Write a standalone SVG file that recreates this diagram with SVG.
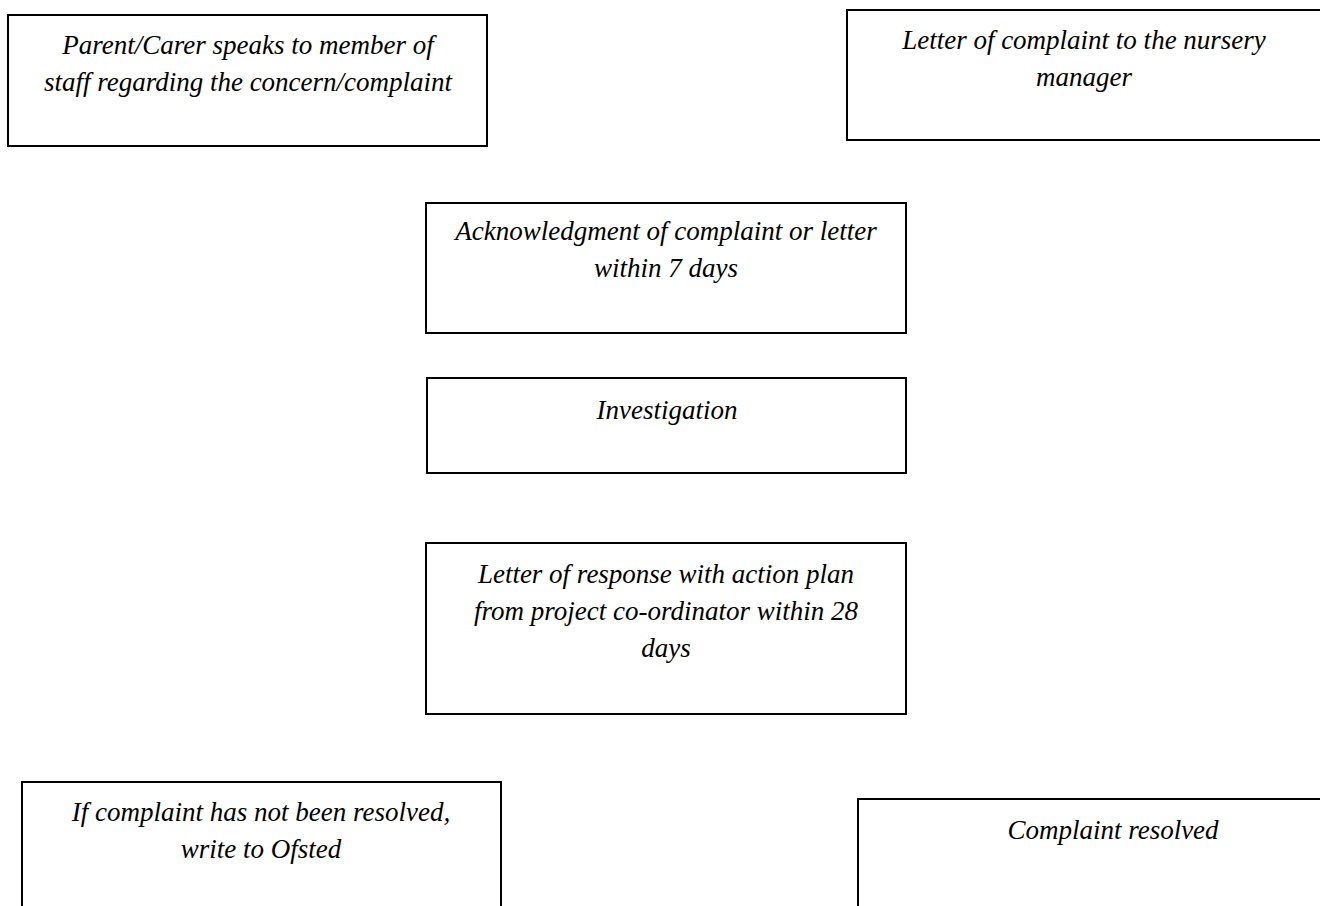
<svg xmlns="http://www.w3.org/2000/svg" width="1320" height="906" viewBox="0 0 1320 906">
<style>
.box{fill:#fff;stroke:#000;stroke-width:2}
.t{font-family:"Liberation Serif","DejaVu Serif",serif;font-style:italic;font-size:27px;fill:#000;text-anchor:middle}
</style>
<rect x="0" y="0" width="1320" height="906" fill="#fff"/>
<g id="connectors"></g>
<g id="n1">
<rect class="box" x="8" y="15" width="479" height="131"/>
<text class="t" x="248" y="54">Parent/Carer speaks to member of</text>
<text class="t" x="248" y="91">staff regarding the concern/complaint</text>
</g>
<g id="n2">
<rect class="box" x="847" y="10" width="490" height="130"/>
<text class="t" x="1084" y="49">Letter of complaint to the nursery</text>
<text class="t" x="1084" y="86">manager</text>
</g>
<g id="n3">
<rect class="box" x="426" y="203" width="480" height="130"/>
<text class="t" x="666" y="240">Acknowledgment of complaint or letter</text>
<text class="t" x="666" y="277">within 7 days</text>
</g>
<g id="n4">
<rect class="box" x="427" y="378" width="479" height="95"/>
<text class="t" x="667" y="419">Investigation</text>
</g>
<g id="n5">
<rect class="box" x="426" y="543" width="480" height="171"/>
<text class="t" x="666" y="583">Letter of response with action plan</text>
<text class="t" x="666" y="620">from project co-ordinator within 28</text>
<text class="t" x="666" y="657">days</text>
</g>
<g id="n6">
<rect class="box" x="22" y="782" width="479" height="140"/>
<text class="t" x="261" y="821">If complaint has not been resolved,</text>
<text class="t" x="261" y="858">write to Ofsted</text>
</g>
<g id="n7">
<rect class="box" x="858" y="799" width="520" height="130"/>
<text class="t" x="1113" y="839">Complaint resolved</text>
</g>
</svg>
